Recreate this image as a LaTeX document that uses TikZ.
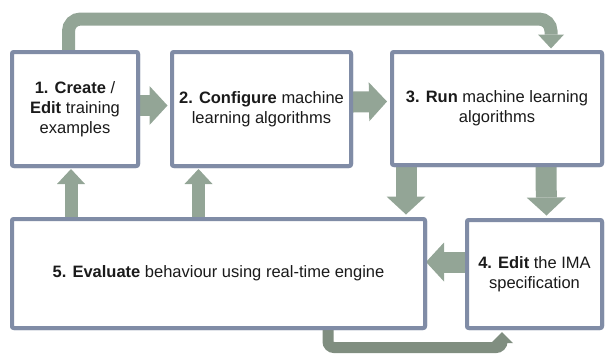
\documentclass[tikz,border=0pt]{standalone}
\usepackage{fontspec}
\setmainfont{Liberation Sans}
\usetikzlibrary{arrows.meta,calc}
\definecolor{boxline}{HTML}{808CA6}
\definecolor{arrcol}{HTML}{93A596}
\definecolor{loopdark}{HTML}{808E80}
\definecolor{txt}{HTML}{1A1A1A}
\tikzset{
  box/.style={draw=boxline, line width=4pt, fill=white, rounded corners=2pt,
    align=center, text=txt, font=\fontsize{16.5}{20}\selectfont, inner sep=2pt},
  bigarr/.style={draw=arrcol, line width=21pt,
    -{Triangle[width=39pt,length=18pt,line width=0pt]}},
  smallarr/.style={draw=arrcol, line width=13pt,
    -{Triangle[width=28pt,length=15pt,line width=0pt]}},
  toploop/.style={draw=arrcol, line width=13pt, rounded corners=12pt,
    -{Triangle[width=26pt,length=14pt,line width=0pt]}},
  botloop/.style={draw=loopdark, line width=11pt, rounded corners=6pt,
    -{Triangle[width=22pt,length=11pt,line width=0pt]}}
}
\begin{document}
\begin{tikzpicture}[x=1pt,y=-1pt]
\useasboundingbox (0,0) rectangle (605,360);
% boxes (placed first for names, redrawn on top later)
\path
  node[box, minimum width=126pt, minimum height=114pt] (b1) at (75,109) {}
  node[box, minimum width=179pt, minimum height=114pt] (b2) at (261.5,109) {}
  node[box, minimum width=210pt, minimum height=113pt] (b3) at (497,108.5) {}
  node[box, minimum width=413pt, minimum height=109pt] (b5) at (218.5,273.5) {}
  node[box, minimum width=135pt, minimum height=108pt] (b4) at (534.5,274) {};
% connectors
\draw[bigarr] ($(b1.east)+(0,-3.5)$) -- ($(b2.west)+(-2.5,-3.5)$);
\draw[bigarr] ($(b2.east)+(0,-7)$) -- ($(b3.west)+(-3,-7)$);
\draw[bigarr] ($(b3.south)+(-91,0)$) -- ($(b5.north)+(187.5,-2.5)$);
\draw[bigarr] ($(b3.south)+(49,0)$) -- ($(b4.north)+(12,-2.5)$);
\draw[bigarr] ($(b4.west)+(0,-12)$) -- ($(b5.east)+(-1,-11.5)$);
\draw[smallarr] ($(b5.north)+(-147.5,0)$) -- ($(b1.south)+(-4,1)$);
\draw[smallarr] ($(b5.north)+(-20,0)$) -- ($(b2.south)+(-63,1)$);
\draw[toploop] ($(b1.north)+(-6.5,0)$) |- ($(b3.north)+(54,-31)$) -- ($(b3.north)+(54,-1.5)$);
\draw[botloop] ($(b5.south)+(109.5,0)$) |- ($(b4.south)+(-32.5,17.5)$) -- ($(b4.south)+(-32.5,2)$);
% boxes on top
\node[box, minimum width=126pt, minimum height=114pt] at (b1) {\textbf{1. Create} /\\\textbf{Edit} training\\examples};
\node[box, minimum width=179pt, minimum height=114pt] at (b2) {\textbf{2. Configure} machine\\learning algorithms};
\node[box, minimum width=210pt, minimum height=113pt] at (b3) {\textbf{3. Run} machine learning\\algorithms};
\node[box, minimum width=413pt, minimum height=109pt] at (b5) {\textbf{5. Evaluate} behaviour using real-time engine};
\node[box, minimum width=135pt, minimum height=108pt] at (b4) {\textbf{4. Edit} the IMA\\specification};
\end{tikzpicture}
\end{document}
